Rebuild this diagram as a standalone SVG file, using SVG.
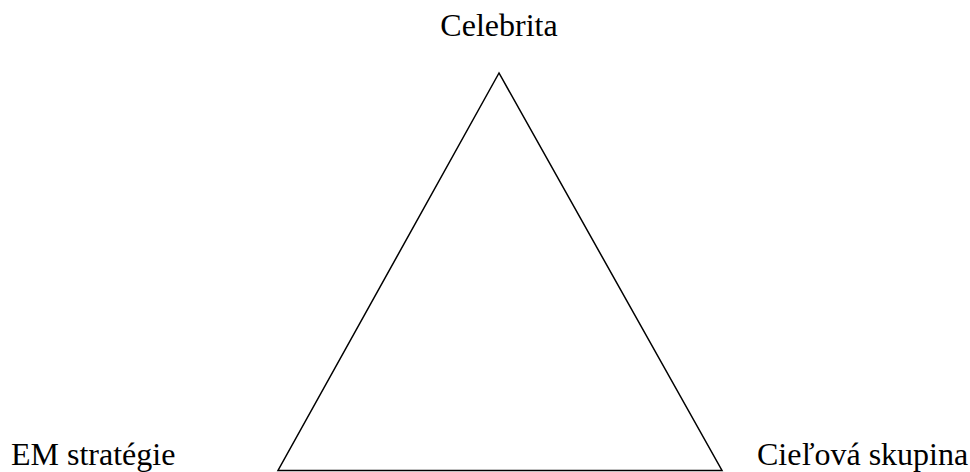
<svg xmlns="http://www.w3.org/2000/svg" width="970" height="472" viewBox="0 0 970 472">
<style>
.lbl{font-family:'Liberation Serif','Times New Roman',serif;font-size:32px;fill:#000}
.edge{fill:none;stroke:#000;stroke-width:1.5;stroke-linejoin:miter}
</style>
<rect width="970" height="472" fill="#fff"/>
<g id="connectors">
<polygon class="edge" points="499,73 278,470.5 722,470.5"/>
</g>
<g id="celebrita"><text class="lbl" x="499" y="35.5" text-anchor="middle">Celebrita</text></g>
<g id="em-strategie"><text class="lbl" x="11" y="465">EM stratégie</text></g>
<g id="cielova-skupina"><text class="lbl" x="757" y="465">Cieľová skupina</text></g>
</svg>
